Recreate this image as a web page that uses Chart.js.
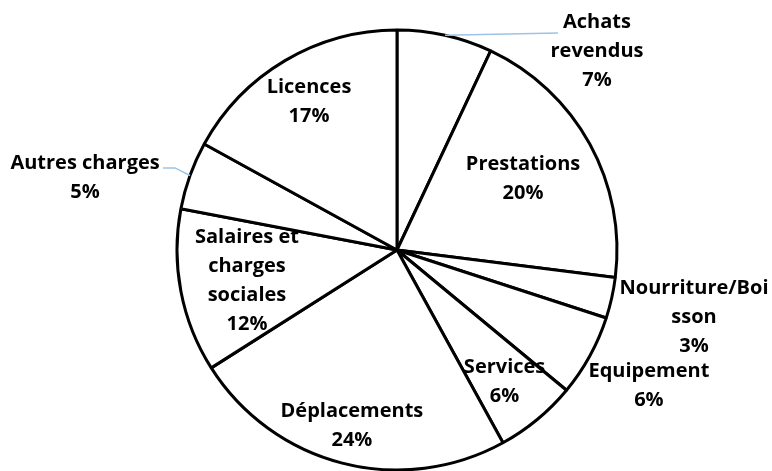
<!DOCTYPE html>
<html>
<head>
<meta charset="utf-8">
<script src="https://cdn.jsdelivr.net/npm/chart.js@4.4.1/dist/chart.umd.min.js"></script>
<style>html,body{margin:0;padding:0;background:#fff;overflow:hidden}</style>
</head>
<body>
<canvas id="c" width="772" height="471"></canvas>
<script>
// ---- data ----
const categories = ['Achats revendus', 'Prestations', 'Nourriture/Boisson', 'Equipement', 'Services', 'Déplacements', 'Salaires et charges sociales', 'Autres charges', 'Licences'];
const percentages = [7, 20, 3, 6, 6, 24, 12, 5, 17];
const labelLines = [['Achats', 'revendus'], ['Prestations'], ['Nourriture/Boi', 'sson'], ['Equipement'], ['Services'], ['Déplacements'], ['Salaires et', 'charges', 'sociales'], ['Autres charges'], ['Licences']];

// ---- label layout (relative to pie centre, in radius units; fy = first baseline) ----
const labelPos = [
  {fx: 0.909, fy: -1.009},
  {fx: 0.573, fy: -0.364},
  {fx: 1.350, fy: 0.200},
  {fx: 1.145, fy: 0.577},
  {fx: 0.489, fy: 0.559},
  {fx: -0.205, fy: 0.759},
  {fx: -0.682, fy: -0.032},
  {fx: -1.418, fy: -0.368},
  {fx: -0.400, fy: -0.714}
];
const leaderPts = {
  0: [[0.732, -0.986]],
  7: [[-1.009, -0.373], [-1.064, -0.373]]
};
const LINE_H = 29;
const FONT = 'bold 20px "Open Sans"';

const labelPlugin = {
  id: 'pieLabels',
  afterDatasetsDraw(chart) {
    const ctx = chart.ctx;
    const meta = chart.getDatasetMeta(0);
    ctx.save();
    meta.data.forEach((arc, i) => {
      const p = arc.getProps(['x', 'y', 'startAngle', 'endAngle', 'outerRadius'], true);
      const r = p.outerRadius;
      const mid = (p.startAngle + p.endAngle) / 2;
      if (leaderPts[i]) {
        ctx.beginPath();
        ctx.strokeStyle = '#9dc3e6';
        ctx.lineWidth = 1.5;
        ctx.moveTo(p.x + r * Math.cos(mid), p.y + r * Math.sin(mid));
        leaderPts[i].forEach(pt => ctx.lineTo(p.x + pt[0] * r, p.y + pt[1] * r));
        ctx.stroke();
      }
      const lp = labelPos[i];
      const lx = p.x + lp.fx * r;
      const ly = p.y + lp.fy * r;
      const lines = labelLines[i].concat([percentages[i] + '%']);
      ctx.font = FONT;
      ctx.fillStyle = '#000';
      ctx.textAlign = 'center';
      ctx.textBaseline = 'alphabetic';
      lines.forEach((t, k) => ctx.fillText(t, lx, ly + k * LINE_H));
    });
    ctx.restore();
  }
};

new Chart(document.getElementById('c'), {
  type: 'pie',
  data: {
    labels: categories,
    datasets: [{
      data: percentages,
      backgroundColor: '#ffffff',
      borderColor: '#000000',
      borderWidth: 3
    }]
  },
  options: {
    responsive: false,
    animation: false,
    devicePixelRatio: 1,
    radius: 220,
    layout: {padding: {left: 22, right: 0, top: 29, bottom: 0}},
    plugins: {
      legend: {display: false},
      tooltip: {enabled: false}
    }
  },
  plugins: [labelPlugin]
});
</script>
</body>
</html>
